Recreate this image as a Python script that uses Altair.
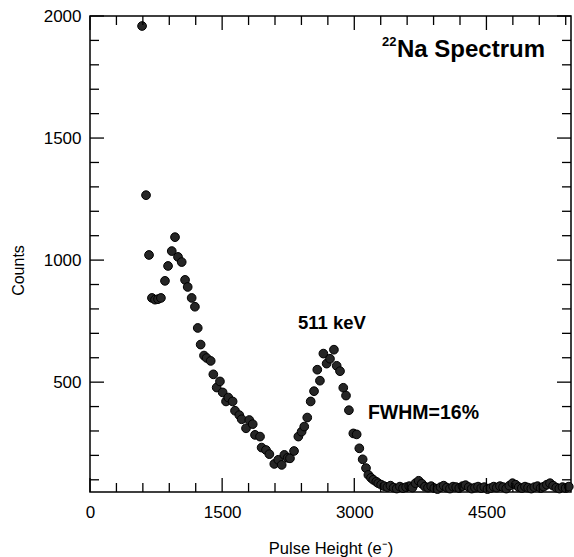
import altair as alt
import pandas as pd

# ---- data ----
pulse_height = [
    591, 636, 670, 703, 738, 772, 805, 851, 886, 928,
    965, 999, 1041, 1079, 1109, 1154, 1191, 1223, 1256, 1294,
    1324, 1370, 1400, 1438, 1475, 1506, 1544, 1570, 1619, 1646,
    1695, 1722, 1771, 1808, 1847, 1873, 1930, 1948, 1998, 2036,
    2092, 2137, 2176, 2206, 2244, 2270, 2316, 2365, 2402, 2432,
    2466, 2505, 2543, 2580, 2610, 2649, 2686, 2724, 2769, 2800,
    2838, 2875, 2906, 2939, 2989, 3027, 3057, 3095, 3133, 3160,
    3190, 3216, 3250, 3272,
    3305, 3340, 3376, 3411, 3447, 3482, 3518, 3553, 3589, 3624,
    3660, 3695, 3731, 3766, 3802, 3837, 3873, 3908, 3944, 3979,
    4015, 4050, 4086, 4121, 4157, 4192, 4228, 4263, 4299, 4334,
    4370, 4405, 4441, 4476, 4512, 4547, 4583, 4618, 4654, 4689,
    4725, 4760, 4796, 4831, 4867, 4902, 4938, 4973, 5009, 5044,
    5080, 5115, 5151, 5186, 5222, 5257, 5293, 5328, 5364, 5399,
    5435,
]
counts = [
    1959, 1266, 1021, 845, 838, 840, 845, 915, 976, 1037,
    1094, 1013, 992, 919, 890, 845, 809, 722, 654, 609,
    599, 587, 532, 478, 503, 458, 421, 437, 421, 383,
    365, 348, 311, 345, 328, 284, 277, 232, 222, 205,
    165, 182, 161, 202, 190, 188, 218, 277, 297, 318,
    355, 421, 463, 551, 506, 617, 576, 596, 633, 567,
    545, 477, 445, 385, 290, 286, 229, 184, 148, 120,
    108, 100, 92, 86,
    80, 74, 70, 76, 68, 64, 72, 66, 70, 74,
    68, 86, 96, 84, 72, 68, 74, 66, 62, 70,
    76, 68, 64, 72, 70, 66, 74, 78, 70, 64,
    68, 72, 66, 70, 62, 66, 72, 68, 74, 70,
    64, 76, 86, 80, 70, 66, 72, 68, 64, 70,
    74, 66, 72, 80, 86, 76, 68, 64, 70, 66,
    72,
]

x_major = [0, 1500, 3000, 4500]
x_minor = [300, 600, 900, 1200, 1800, 2100, 2400, 2700, 3300, 3600, 3900,
           4200, 4800, 5100, 5400]
y_major = [500, 1000, 1500, 2000]
y_minor = [100, 200, 300, 400, 600, 700, 800, 900, 1100, 1200, 1300, 1400,
           1600, 1700, 1800, 1900]

x_domain = [0, 5460]
y_domain = [50, 2000]

W, H = 481, 476
FONT = "Liberation Sans"
X_TITLE = "Pulse Height (e\u207b)"
Y_TITLE = "Counts"

df = pd.DataFrame({"ph": pulse_height, "c": counts})
xs = alt.Scale(domain=x_domain, nice=False, zero=False)
ys = alt.Scale(domain=y_domain, nice=False, zero=False)

x_axis = alt.Axis(values=x_major, format="d", ticks=False, tickSize=0, domain=False,
                  grid=False, labelPadding=12, labelFlush=False,
                  labelFont=FONT, labelFontSize=17, labelColor="black",
                  titleFont=FONT, titleFontSize=16.5, titleFontWeight="normal",
                  titleColor="black", titleY=56, titleBaseline="middle")
y_axis = alt.Axis(values=y_major, format="d", ticks=False, tickSize=0, domain=False,
                  grid=False, labelPadding=9, labelFlush=False,
                  labelFont=FONT, labelFontSize=17, labelColor="black",
                  titleFont=FONT, titleFontSize=16, titleFontWeight="normal",
                  titleColor="black", titleX=-72, titleY=254,
                  titleBaseline="middle", titleAlign="center")


def X(field):
    return alt.X(field, scale=xs, title=X_TITLE, axis=x_axis)


def Y(field):
    return alt.Y(field, scale=ys, title=Y_TITLE, axis=y_axis)


points = alt.Chart(df).mark_circle(
    size=76, color="#262626", opacity=1, stroke="black", strokeWidth=1
).encode(x=X("ph:Q"), y=Y("c:Q"))


def xticks(vals, length):
    d = pd.DataFrame({"v": vals})
    base = alt.Chart(d).mark_rule(color="black", strokeWidth=1.3)
    bottom = base.encode(x=X("v:Q"), y=alt.value(H), y2=alt.value(H - length))
    top = base.encode(x=X("v:Q"), y=alt.value(0), y2=alt.value(length))
    return [bottom, top]


def yticks(vals, length):
    d = pd.DataFrame({"v": vals})
    base = alt.Chart(d).mark_rule(color="black", strokeWidth=1.3)
    left = base.encode(y=Y("v:Q"), x=alt.value(0), x2=alt.value(length))
    right = base.encode(y=Y("v:Q"), x=alt.value(W), x2=alt.value(W - length))
    return [left, right]


tick_layers = (xticks(x_major, 14) + xticks(x_minor, 9)
               + yticks(y_major, 14) + yticks(y_minor, 9))


def label(text, x, y, size, align, baseline):
    d = pd.DataFrame({"t": [text], "x": [x], "y": [y]})
    return alt.Chart(d).mark_text(
        font=FONT, fontSize=size, fontWeight="bold", color="black",
        align=align, baseline=baseline
    ).encode(x=X("x:Q"), y=Y("y:Q"), text="t:N")


ann_511 = label("511 keV", 2747, 742, 18.5, "center", "middle")
ann_fwhm = label("FWHM=16%", 3155, 374, 19.5, "left", "middle")
title_main = label("Na Spectrum", 3484, 1833, 24, "left", "alphabetic")
title_sup = label("22", 3314, 1877, 13, "left", "alphabetic")

chart = alt.layer(points, *tick_layers, ann_511, ann_fwhm, title_main, title_sup).properties(
    width=W, height=H,
    autosize=alt.AutoSizeParams(type="none"),
    padding={"left": 90, "top": 16, "right": 3, "bottom": 65},
    background="white",
).configure_view(stroke="black", strokeWidth=1.5)

chart.save("out.html", embed_options={"renderer": "svg", "actions": False})
